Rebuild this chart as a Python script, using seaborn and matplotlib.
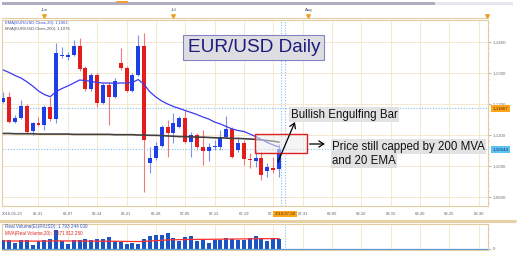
import numpy as np
import pandas as pd
import matplotlib
matplotlib.use("Agg")
import matplotlib.pyplot as plt
import matplotlib.patches as mpatches
import matplotlib.transforms as mtrans
from matplotlib.lines import Line2D
from matplotlib.ticker import MultipleLocator, FixedLocator
import seaborn as sns

sns.set_style("white")
plt.rcParams['font.family'] = ['Liberation Sans', 'DejaVu Sans']

# ---------------- data ----------------
first_day = "2016-05-23"
current_day = "2016-07-28"

opens = [1.12074, 1.12216, 1.11429, 1.11558, 1.11945,
         1.11139, 1.11377, 1.11323, 1.11894, 1.11506,
         1.13548, 1.13532, 1.13581, 1.13871, 1.13152,
         1.12474, 1.12926, 1.12042, 1.12613, 1.12235,
         1.13313, 1.13152, 1.12429, 1.12935, 1.13871,
         1.10106, 1.10248, 1.10645, 1.11248, 1.11055,
         1.11248, 1.11539, 1.10784, 1.11000, 1.10623,
         1.10494, 1.10603, 1.10623, 1.10926, 1.11184,
         1.10516, 1.10752, 1.10226, 1.10171, 1.10248,
         1.09848, 1.09926, 1.09894]
closes = [1.12184, 1.11429, 1.11558, 1.11945, 1.11106,
          1.11377, 1.11323, 1.11894, 1.11506, 1.13635,
          1.13581, 1.13565, 1.13855, 1.13119, 1.12474,
          1.12926, 1.12042, 1.12613, 1.12235, 1.12752,
          1.13152, 1.12429, 1.12935, 1.13871, 1.10839,
          1.10248, 1.10645, 1.11248, 1.11055, 1.11377,
          1.11539, 1.10784, 1.11000, 1.10623, 1.10494,
          1.10603, 1.10645, 1.10926, 1.11184, 1.10300,
          1.10752, 1.10216, 1.10194, 1.10268, 1.09710,
          1.09958, 1.09871, 1.10544]
highs = [1.12387, 1.12397, 1.11645, 1.12129, 1.12000,
         1.11429, 1.11590, 1.11968, 1.12235, 1.13958,
         1.13848, 1.13687, 1.14065, 1.14119, 1.13226,
         1.13000, 1.13000, 1.12677, 1.12710, 1.12839,
         1.13797, 1.13226, 1.13000, 1.14226, 1.14290,
         1.10623, 1.10784, 1.11323, 1.11484, 1.11700,
         1.11613, 1.11806, 1.11097, 1.11065, 1.11161,
         1.10732, 1.10839, 1.11161, 1.11613, 1.11258,
         1.10903, 1.10839, 1.10410, 1.10516, 1.10461,
         1.10087, 1.10281, 1.10710]
lows = [1.12032, 1.11387, 1.11377, 1.11532, 1.11065,
        1.11000, 1.11290, 1.11161, 1.11452, 1.11377,
        1.13484, 1.13419, 1.13548, 1.13065, 1.12419,
        1.12419, 1.11913, 1.12000, 1.11323, 1.12194,
        1.13097, 1.12387, 1.12387, 1.12903, 1.09171,
        1.09765, 1.10194, 1.10613, 1.10300, 1.10742,
        1.11226, 1.10742, 1.10300, 1.10516, 1.10032,
        1.10171, 1.10516, 1.10516, 1.10903, 1.10258,
        1.10452, 1.10032, 1.09926, 1.09977, 1.09548,
        1.09635, 1.09765, 1.09655]
ema20 = [1.13097, 1.13016, 1.12919, 1.12839, 1.12719,
         1.12581, 1.12419, 1.12306, 1.12235, 1.12403,
         1.12500, 1.12581, 1.12677, 1.12774, 1.12758,
         1.12726, 1.12694, 1.12677, 1.12677, 1.12668,
         1.12677, 1.12677, 1.12694, 1.12790, 1.12629,
         1.12387, 1.12226, 1.12097, 1.12000, 1.11919,
         1.11855, 1.11790, 1.11726, 1.11661, 1.11581,
         1.11516, 1.11419, 1.11355, 1.11274, 1.11194,
         1.11145, 1.11113, 1.11032, 1.10952, 1.10855,
         1.10758, 1.10677, 1.10613]
mva200 = [1.1105, 1.1105, 1.1104, 1.1104, 1.1104,
          1.1104, 1.1103, 1.1103, 1.1103, 1.1103,
          1.1103, 1.1103, 1.1102, 1.1102, 1.1102,
          1.1102, 1.1102, 1.1102, 1.1102, 1.1101,
          1.1101, 1.1101, 1.1101, 1.1100, 1.1100,
          1.1099, 1.1099, 1.1098, 1.1097, 1.1096,
          1.1095, 1.1095, 1.1094, 1.1093, 1.1093,
          1.1092, 1.1091, 1.1091, 1.1090, 1.1089,
          1.1089, 1.1088, 1.1087, 1.1086, 1.1084,
          1.1082, 1.1080, 1.1077]
volume_bn = [1.49, 1.61, 1.00, 1.49, 1.49, 0.72, 1.36, 1.49, 1.66, 3.40,
             1.36, 0.90, 1.49, 1.61, 1.66, 1.49, 1.72, 1.72, 2.08, 1.36,
             1.18, 0.90, 1.00, 0.77, 1.66, 2.26, 2.38, 2.43, 2.79, 1.97,
             1.36, 2.08, 2.20, 1.36, 1.79, 1.07, 1.49, 1.61, 1.90, 1.72,
             1.49, 1.61, 1.97, 2.26, 1.97, 1.36, 1.66, 1.79]
vol_mva20_bn = [1.38, 1.38, 1.37, 1.37, 1.37, 1.36, 1.36, 1.36, 1.36, 1.40,
                1.40, 1.39, 1.38, 1.37, 1.36, 1.35, 1.34, 1.34, 1.35, 1.34,
                1.32, 1.30, 1.29, 1.28, 1.32, 1.38, 1.44, 1.50, 1.57, 1.60,
                1.62, 1.64, 1.66, 1.66, 1.68, 1.68, 1.69, 1.70, 1.72, 1.73,
                1.74, 1.75, 1.76, 1.78, 1.79, 1.79, 1.80, 1.80]
price_ticks = [1.09, 1.10, 1.11, 1.12, 1.13, 1.14]
xtick_dates = ["2016-05-31", "2016-06-07", "2016-06-14", "2016-06-21", "2016-06-28",
               "2016-07-05", "2016-07-12", "2016-07-19", "2016-07-26",
               "2016-07-31", "2016-08-05", "2016-08-10", "2016-08-15",
               "2016-08-20", "2016-08-25", "2016-08-30"]
month_dates = ["2016-06-01", "2016-07-01", "2016-08-01"]
month_labels = ["Jun", "Jul", "Aug"]
last_price = 1.10544
cursor_price = 1.11867
ema_text = "EMA(EUR/USD,Close,20): 1,1062"
mva_text = "MVA(EUR/USD,Close,200): 1,1076"
vol_text = "Real Volume(EUR/USD): 1 793 244 000"
volmva_text = "MVA(Real Volume,20): 1 571 812 250"

# ---------------- helpers ----------------
trade_days = pd.bdate_range(first_day, periods=len(opens))


def slot(d):
    d = pd.Timestamp(d)
    if d <= trade_days[-1]:
        return int(np.searchsorted(trade_days, d))
    return len(trade_days) - 1 + (d - trade_days[-1]).days


def fmt(v, nd=4):
    return f"{v:.{nd}f}".replace('.', ',')


W, H = 518, 257
fig = plt.figure(figsize=(W / 100, H / 100), dpi=100)
fig.patch.set_facecolor('white')


def rect(x0, y0, x1, y1):
    return [x0 / W, 1 - y1 / H, (x1 - x0) / W, (y1 - y0) / H]


ax = fig.add_axes(rect(2, 20, 488, 206))
axv = fig.add_axes(rect(2, 224, 488, 250))
axt = fig.add_axes(rect(2, 5, 488, 18))

x = np.arange(len(opens))
o = np.array(opens); c = np.array(closes)
hi = np.array(highs); lo = np.array(lows)
up = c >= o
body_col = np.where(up, '#1f3fe6', '#e41c1c')
wick_col = np.where(up, '#7f8ff0', '#f07878')
df = pd.DataFrame({'x': x, 'ema': ema20, 'mva': mva200,
                   'vol': volume_bn, 'volmva': vol_mva20_bn})

xlim = (-0.22, 82.6)
grid_col = '#f4e5c9'
spine_col = '#e2cca2'
xt_pos = [slot(d) for d in xtick_dates]
xt_lab = [pd.Timestamp(d).strftime('%m-%d') for d in xtick_dates]

# ---------------- main price panel ----------------
ax.vlines(x, lo, hi, colors=wick_col, lw=0.8, zorder=2)
ax.bar(x, np.maximum(np.abs(c - o), 0.00028), bottom=np.minimum(o, c),
       width=0.68, color=body_col, zorder=3, linewidth=0)
sns.lineplot(data=df, x='x', y='mva', ax=ax, color='#404040', lw=1.2, zorder=4)
sns.lineplot(data=df, x='x', y='ema', ax=ax, color='#3a3af0', lw=0.9, zorder=5)
ax.set_xlabel(''); ax.set_ylabel('')
ax.set_xlim(*xlim)
ax.set_ylim(1.087097, 1.147097)

ax.set_xticks(xt_pos)
ax.set_xticklabels(xt_lab)
ax.xaxis.set_minor_locator(MultipleLocator(1))
ax.tick_params(axis='x', which='major', length=2, pad=2.5, labelsize=3,
               labelcolor='#556070', color=spine_col)
ax.tick_params(axis='x', which='minor', length=1, color=spine_col)
ax.set_yticks(price_ticks)
ax.set_yticklabels([fmt(v) for v in price_ticks])
ax.yaxis.set_minor_locator(MultipleLocator(0.002))
ax.tick_params(axis='y', which='both', left=False, right=True, labelleft=False,
               labelright=True, color='#b8b8b8')
ax.tick_params(axis='y', which='major', length=2, pad=1.5, labelsize=3.2, labelcolor='#707070')
ax.tick_params(axis='y', which='minor', length=1)
ax.grid(True, which='major', color=grid_col, lw=0.6)
ax.set_axisbelow(True)
for s in ax.spines.values():
    s.set_color(spine_col); s.set_linewidth(0.8)

dot = dict(color='#86c0ec', lw=0.8, ls=(0, (1, 1.5)), zorder=2.5)
ax.axhline(cursor_price, **dot)
ax.axhline(last_price, **dot)
cur_slot = slot(current_day)
ax.axvline(cur_slot - 0.65, **dot)
ax.axvline(cur_slot + 0.05, **dot)

ax.text(0.006, 0.982, ema_text, transform=ax.transAxes, fontsize=3, color='#3050d0',
        va='center', ha='left')
ax.text(0.006, 0.950, mva_text, transform=ax.transAxes, fontsize=3, color='#505050',
        va='center', ha='left')

ytr = mtrans.blended_transform_factory(ax.transAxes, ax.transData)
ax.text(1.009, cursor_price, fmt(cursor_price, 5), transform=ytr, fontsize=3.2,
        color='#503000', va='center', ha='left', clip_on=False, zorder=10,
        bbox=dict(boxstyle='square,pad=0.35', fc='#ffa51c', ec='none'))
ax.text(1.009, last_price, fmt(last_price, 5), transform=ytr, fontsize=3.2,
        color='#103060', va='center', ha='left', clip_on=False, zorder=10,
        bbox=dict(boxstyle='square,pad=0.35', fc='#5cc3f4', ec='none'))

xtr = mtrans.blended_transform_factory(ax.transData, ax.transAxes)
ax.text(cur_slot, -0.043, current_day, transform=xtr, fontsize=3, color='#503000',
        ha='center', va='center', clip_on=False, zorder=10,
        bbox=dict(boxstyle='square,pad=0.3', fc='#ffa51c', ec='none'))
ax.text(xlim[0], -0.043, first_day, transform=xtr, fontsize=3, color='#556070',
        ha='left', va='center', clip_on=False, zorder=10)

# annotations
ax.text(42.7, 1.1382, "EUR/USD Daily", ha='center', va='center', fontsize=13.7,
        color='#1c1c7c', zorder=10,
        bbox=dict(boxstyle='square,pad=0.22', fc='#dedee2', ec='#8484c4', lw=0.8))
ax.add_patch(mpatches.Rectangle((42.9, 1.10419), 8.8, 0.00613, fc=(0.93, 0.93, 0.93, 0.55),
                                ec='#e02020', lw=1.0, zorder=6))
ax.annotate("", xy=(49.7, 1.11419), xytext=(46.8, 1.10129), zorder=7,
            arrowprops=dict(arrowstyle='->,head_length=0.35,head_width=0.22',
                            color='black', lw=0.9, shrinkA=0, shrinkB=0))
ax.annotate("", xy=(54.8, 1.1071), xytext=(52.2, 1.1071), zorder=7,
            arrowprops=dict(arrowstyle='->,head_length=0.35,head_width=0.22',
                            color='black', lw=0.9, shrinkA=0, shrinkB=0))
tb = dict(boxstyle='square,pad=0.12', fc='#e2e2e2', ec='none')
ax.text(49.0, 1.11661, "Bullish Engulfing Bar", ha='left', va='center', fontsize=8.3,
        color='#111111', zorder=8, bbox=tb)
ax.text(56.0, 1.10629, "Price still capped by 200 MVA", ha='left', va='center',
        fontsize=8.3, color='#111111', zorder=8, bbox=tb)
ax.text(56.0, 1.10161, "and 20 EMA", ha='left', va='center', fontsize=8.3,
        color='#111111', zorder=8, bbox=tb)

# ---------------- volume panel ----------------
axv.bar(x, volume_bn, width=0.68, color='#1d54c4', linewidth=0, zorder=3)
sns.lineplot(data=df, x='x', y='volmva', ax=axv, color='#ff3030', lw=0.9, zorder=4)
axv.axhline(0, color='#5b9bd5', lw=0.9, zorder=4)
axv.axvline(cur_slot + 0.05, **dot)
axv.set_xlabel(''); axv.set_ylabel('')
axv.set_xlim(*xlim)
axv.set_ylim(-0.233, 4.42)
axv.set_xticks(xt_pos)
axv.tick_params(axis='x', length=0, labelbottom=False)
axv.set_yticks([0])
axv.set_yticklabels(['0'])
axv.yaxis.set_minor_locator(FixedLocator([1.2, 2.4, 3.6]))
axv.tick_params(axis='y', which='both', left=False, right=True, labelleft=False,
                labelright=True, color='#b8b8b8')
axv.tick_params(axis='y', which='major', length=2, pad=1.5, labelsize=3.2, labelcolor='#707070')
axv.tick_params(axis='y', which='minor', length=1)
axv.grid(True, axis='x', color=grid_col, lw=0.6)
axv.set_axisbelow(True)
for s in axv.spines.values():
    s.set_color(spine_col); s.set_linewidth(0.8)
axv.text(0.006, 0.92, vol_text, transform=axv.transAxes, fontsize=3.3, color='#3355bb',
         va='center', ha='left', zorder=6)
axv.text(0.006, 0.65, volmva_text, transform=axv.transAxes, fontsize=3.3, color='#e02020',
         va='center', ha='left', zorder=6)

# ---------------- top month strip ----------------
axt.set_xlim(*xlim)
axt.set_ylim(0, 1)
for k in ['top', 'left', 'right']:
    axt.spines[k].set_visible(False)
axt.spines['bottom'].set_color(spine_col)
axt.spines['bottom'].set_linewidth(0.8)
axt.set_xticks(np.arange(1.2, 82.6, 2.8))
axt.tick_params(axis='x', direction='in', length=1.5, color='#c8c8c8', labelbottom=False)
axt.set_yticks([])
axt.patch.set_alpha(0)
m_pos = [slot(d) for d in month_dates]
for p, lab in zip(m_pos, month_labels):
    axt.text(p, 0.62, lab, ha='center', va='center', fontsize=3.2, color='#404a60')
axt.scatter(m_pos + [xlim[1] - 0.1], [0.18] * (len(m_pos) + 1), marker='v', s=6,
            color='#f0a020', zorder=5, clip_on=False)

# ---------------- decorations ----------------
fig.add_artist(Line2D([0, 0.995], [1 - 221 / H] * 2, color='#e6d0a6', lw=2.2))
fig.add_artist(mpatches.Rectangle((2 / W, 1 - 4.5 / H), 433 / W, 2.5 / H, fc='#aeaec0',
                                  ec='none'))
fig.add_artist(mpatches.Rectangle((435 / W, 1 - 4.5 / H), 78 / W, 2.5 / H, fc='#e6e6ee',
                                  ec='none'))
fig.add_artist(mpatches.Rectangle((116 / W, 1 - 2.6 / H), 12 / W, 1.6 / H, fc='#f0a040',
                                  ec='none'))

fig.savefig("out.png", dpi=100, facecolor='white')
